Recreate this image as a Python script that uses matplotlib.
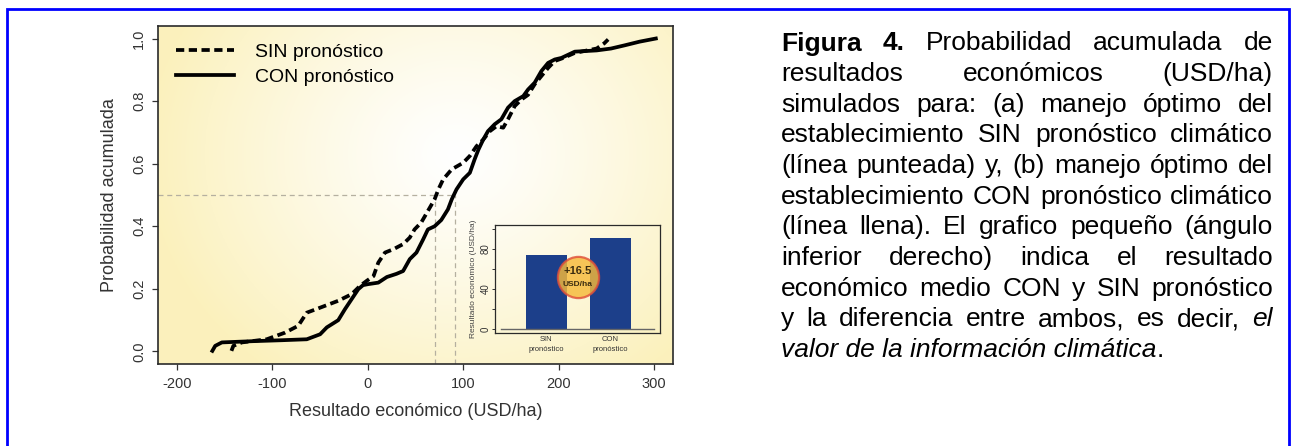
import numpy as np
import matplotlib
matplotlib.use("Agg")
import matplotlib.pyplot as plt
from matplotlib.patches import Rectangle

plt.rcParams['font.family'] = ['Liberation Sans', 'DejaVu Sans']

# ---- data ----
# CON pronostico (solid line)
con_x = [-163, -160, -153, -120, -90, -64, -50, -43, -31, -24, -17, -10, -5, 0, 11,
         20, 30, 37, 44, 51, 58, 63, 70, 77, 84, 88, 93, 100, 107, 112, 116, 121,
         126, 133, 140, 147, 154, 163, 168, 175, 182, 189, 196, 203, 217, 240, 255,
         269, 285, 302]
con_y = [0.002, 0.018, 0.029, 0.033, 0.036, 0.039, 0.055, 0.077, 0.10, 0.135, 0.167,
         0.199, 0.212, 0.215, 0.22, 0.238, 0.248, 0.257, 0.295, 0.316, 0.358, 0.39,
         0.40, 0.42, 0.454, 0.486, 0.518, 0.55, 0.571, 0.614, 0.645, 0.677, 0.704,
         0.726, 0.742, 0.779, 0.80, 0.816, 0.837, 0.859, 0.896, 0.922, 0.933, 0.938,
         0.958, 0.962, 0.968, 0.978, 0.99, 1.0]
# SIN pronostico (dashed line)
sin_x = [-143, -141, -132, -106, -87, -73, -64, -50, -31, -17, -8, -1, 6, 11, 18, 27,
         37, 44, 49, 56, 63, 70, 74, 79, 88, 100, 107, 114, 121, 128, 135, 142, 147,
         154, 161, 168, 175, 182, 189, 196, 205, 217, 240, 248, 252]
sin_y = [0.002, 0.018, 0.029, 0.039, 0.06, 0.082, 0.124, 0.14, 0.162, 0.183, 0.21,
         0.226, 0.241, 0.284, 0.316, 0.327, 0.343, 0.364, 0.39, 0.412, 0.449, 0.486,
         0.518, 0.55, 0.582, 0.603, 0.625, 0.656, 0.677, 0.704, 0.72, 0.715, 0.742,
         0.784, 0.805, 0.82, 0.854, 0.88, 0.906, 0.928, 0.938, 0.954, 0.968, 0.985,
         0.997]
median_sin = 70
median_con = 91

# inset bars
bar_names = ["SIN\npronóstico", "CON\npronóstico"]
bar_vals = [74.5, 91.0]
diff_label = "+16.5"

caption = [
    [("Figura", "b"), ("4.", "b"), "Probabilidad", "acumulada", "de"],
    ["resultados", "económicos", "(USD/ha)"],
    ["simulados", "para:", "(a)", "manejo", "óptimo", "del"],
    ["establecimiento", "SIN", "pronóstico", "climático"],
    ["(línea", "punteada)", "y,", "(b)", "manejo", "óptimo", "del"],
    ["establecimiento", "CON", "pronóstico", "climático"],
    ["(línea", "llena).", "El", "grafico", "pequeño", "(ángulo"],
    ["inferior", "derecho)", "indica", "el", "resultado"],
    ["económico", "medio", "CON", "y", "SIN", "pronóstico"],
    ["y", "la", "diferencia", "entre", "ambos,", "es", "decir,", ("el", "i")],
]
caption_last = "valor de la información climática"

W, H = 1291, 446
fig = plt.figure(figsize=(W / 100, H / 100), dpi=100)

# ---- main axes ----
ax = fig.add_axes([158 / W, 1 - 364 / H, 515 / W, 338 / H])
u, v = np.meshgrid(np.linspace(0, 1, 300), np.linspace(0, 1, 300))
d = np.sqrt(((u - 0.58) / 0.6) ** 2 + ((v - 0.62) / 0.8) ** 2)
t = np.clip(d, 0, 1) ** 1.2
yel = np.array([0.985, 0.945, 0.74])
grad = (1 - t[..., None]) * np.ones(3) + t[..., None] * yel
ax.imshow(grad, extent=[0, 1, 0, 1], transform=ax.transAxes, origin='lower',
          aspect='auto', zorder=0)

ref = dict(color='#b5b0a0', lw=0.9, dashes=(4, 3), zorder=1)
ax.plot([-220, median_con], [0.5, 0.5], **ref)
ax.plot([median_sin, median_sin], [-0.04, 0.5], **ref)
ax.plot([median_con, median_con], [-0.04, 0.5], **ref)

ax.plot(sin_x, sin_y, color='black', lw=2.7, dashes=(2.2, 1.2), label='SIN pronóstico', zorder=3)
ax.plot(con_x, con_y, color='black', lw=2.7, label='CON pronóstico', zorder=3)

ax.set_xlim(-220, 320)
ax.set_ylim(-0.04, 1.04)
ax.set_xticks([-200, -100, 0, 100, 200, 300])
ax.set_xticklabels(['-200', '-100', '0', '100', '200', '300'])
ax.set_yticks([0, 0.2, 0.4, 0.6, 0.8, 1.0])
ax.set_yticklabels(['0.0', '0.2', '0.4', '0.6', '0.8', '1.0'])
ax.tick_params(direction='out', length=4.5, width=0.9, color='#333333',
               labelcolor='#333333', labelsize=10.5)
ax.tick_params(axis='x', pad=5)
ax.tick_params(axis='y', pad=4, labelrotation=90)
for lab in ax.get_yticklabels():
    lab.set_va('center')
for s in ax.spines.values():
    s.set_linewidth(1.2)
    s.set_color('#2a2a2a')

ax.set_xlabel('Resultado económico (USD/ha)', fontsize=13, color='#333333')
ax.xaxis.set_label_coords(0.5, (364 - 412) / 338)
ax.xaxis.label.set_va('center')
ax.set_ylabel('Probabilidad acumulada', fontsize=13, color='#333333')
ax.yaxis.set_label_coords((109 - 158) / 515, 0.5)
ax.yaxis.label.set_va('center')

ax.legend(loc='upper left', frameon=False, fontsize=14, handlelength=3,
          handletextpad=1.1, labelspacing=0.35, borderaxespad=0.5, borderpad=0.4)

# ---- inset ----
ai = fig.add_axes([495 / W, 1 - 333 / H, 165 / W, 108 / H])
ai.set_facecolor('none')
xpos = np.arange(len(bar_vals))
ai.bar(xpos, bar_vals, width=0.64, color='#1c3f8a', zorder=2)
ai.plot([-0.7, 1.68], [0, 0], color='#666666', lw=1, zorder=3)
ai.set_xlim(-0.80, 1.77)
ai.set_ylim(-4, 104)
ai.set_xticks(xpos)
ai.set_xticklabels(bar_names, fontsize=5.5, color='#333333', linespacing=1.6)
ai.tick_params(axis='x', length=0, pad=2)
ai.set_yticks([0, 20, 40, 60, 80, 100])
ai.set_yticklabels(['0', '', '40', '', '80', ''])
ai.tick_params(axis='y', length=2.5, width=0.7, pad=0.5, labelsize=7,
               labelrotation=90, color='#333333', labelcolor='#333333')
for lab in ai.get_yticklabels():
    lab.set_va('center')
for s in ai.spines.values():
    s.set_linewidth(0.9)
    s.set_color('#2a2a2a')
ai.set_ylabel('Resultado económico (USD/ha)', fontsize=6, color='#444444')
ai.yaxis.set_label_coords((473 - 495) / 165, 0.5)
ai.yaxis.label.set_va('center')

cx = 0.49
ai.scatter([cx], [52], s=880, facecolor='#f5b93a', edgecolor='#e0503a', lw=1.6,
           alpha=0.82, zorder=4)
ai.text(cx, 58, diff_label, ha='center', va='center', fontsize=8, fontweight='bold',
        color='#3a2c10', zorder=5)
ai.text(cx, 45, 'USD/ha', ha='center', va='center', fontsize=6, fontweight='bold',
        color='#3a2c10', zorder=5)

# ---- caption (justified) ----
cap_left, cap_right = 781, 1273
base0, step = 50.5, 30.65
fs = 19
renderer = fig.canvas.get_renderer()


def make(word, x, y):
    if isinstance(word, tuple):
        txt, st = word
    else:
        txt, st = word, ''
    kw = dict(fontsize=fs, color='black', va='baseline', ha='left')
    if st == 'b':
        kw['fontweight'] = 'bold'
    if st == 'i':
        kw['fontstyle'] = 'italic'
    return fig.text(x / W, 1 - y / H, txt, **kw)


for i, line in enumerate(caption):
    y = base0 + i * step
    objs = [make(w, cap_left, y) for w in line]
    widths = [o.get_window_extent(renderer).width for o in objs]
    gap = (cap_right - cap_left - sum(widths)) / (len(objs) - 1)
    x = cap_left
    for o, wdt in zip(objs, widths):
        o.set_x(x / W)
        x += wdt + gap

y = base0 + len(caption) * step
o = make((caption_last, 'i'), cap_left, y)
wl = o.get_window_extent(renderer).width
make('.', cap_left + wl, y)

# blue frame
fig.add_artist(Rectangle((7 / W, -0.05), (1289 - 7) / W, 1.05 - 8.7 / H,
                         transform=fig.transFigure, fill=False, edgecolor='#0000ff',
                         lw=2.0, clip_on=False))

fig.savefig('out.png', dpi=100)
